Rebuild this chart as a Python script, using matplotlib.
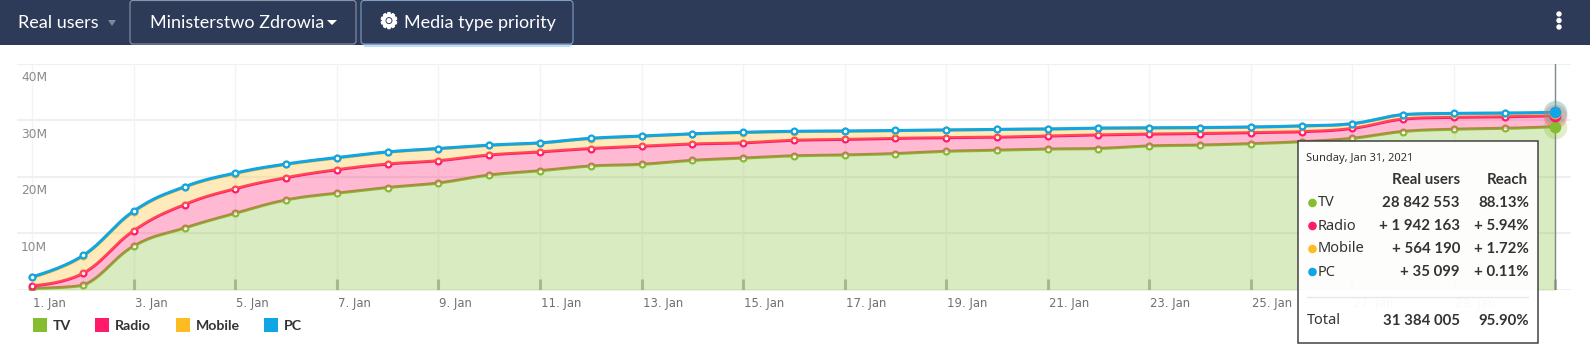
#!/usr/bin/python3
#
# plot.py: Real users by media type, January 2021.

import numpy as np
import matplotlib
matplotlib.use("Agg")
import matplotlib.pyplot as plt
import matplotlib.patheffects as pe
from matplotlib.patches import Circle, FancyBboxPatch, Rectangle, Polygon

W, H = 1590, 361

# daily real users, millions
days = list(range(1, 32))
tv = [0.30, 0.80, 7.77, 10.95, 13.55, 15.90, 17.10, 18.10, 18.90, 20.30, 21.07,
      21.90, 22.20, 22.90, 23.30, 23.70, 23.85, 24.10, 24.50, 24.70, 24.90,
      25.00, 25.45, 25.60, 25.85, 26.20, 26.80, 28.00, 28.40, 28.55, 28.842553]
radio = [0.46, 2.15, 2.73, 4.15, 4.35, 3.95, 4.15, 4.16, 3.95, 3.55, 3.33, 3.10,
         3.20, 2.90, 2.70, 2.75, 2.75, 2.70, 2.40, 2.30, 2.30, 2.40, 2.10, 2.05,
         1.95, 1.77, 1.75, 2.20, 2.10, 2.05, 1.942163]
mobile = [1.47, 3.03, 3.34, 3.05, 2.67, 2.33, 2.07, 2.07, 2.09, 1.69, 1.55, 1.75,
          1.75, 1.75, 1.81, 1.54, 1.45, 1.36, 1.33, 1.36, 1.21, 1.16, 1.06, 1.01,
          0.96, 0.99, 0.81, 0.76, 0.66, 0.61, 0.56419]
pc = [0.12, 0.12, 0.12, 0.10, 0.10, 0.08, 0.08, 0.07, 0.06, 0.06, 0.05, 0.05,
      0.05, 0.05, 0.05, 0.05, 0.04, 0.04, 0.04, 0.04, 0.04, 0.04, 0.04, 0.04,
      0.04, 0.04, 0.04, 0.04, 0.04, 0.04, 0.035099]

names = ["TV", "Radio", "Mobile", "PC"]
colors = ["#84bd2f", "#ff1a6c", "#ffbb22", "#10a5e5"]
y_ticks = [10, 20, 30, 40]
y_labels = ["10M", "20M", "30M", "40M"]
x_label_days = list(range(1, 30, 2))
x_labels = [f"{d}. Jan" for d in x_label_days]
tick_mark_days = list(range(3, 32, 2))

tip_date = "Sunday, Jan 31, 2021"
tip_users = ["28 842 553", "+ 1 942 163", "+ 564 190", "+ 35 099"]
tip_reach = ["88.13%", "+ 5.94%", "+ 1.72%", "+ 0.11%"]
tip_total = ["31 384 005", "95.90%"]


def spline(xs, ys, n=16):
    """Curva bezier passando pelos pontos, suavizacao 1.5."""
    xs = np.asarray(xs, float)
    ys = np.asarray(ys, float)
    slope = np.gradient(ys, xs)
    t = np.linspace(0, 1, n, endpoint=False)[:, None]
    out_x, out_y = [], []
    last = len(xs) - 2
    for i in range(len(xs) - 1):
        dx = xs[i + 1] - xs[i]
        lo, hi = sorted((ys[i], ys[i + 1]))
        p0, p3 = ys[i], ys[i + 1]
        # nas pontas o controle fica em cima do proprio ponto
        k0 = 0 if i == 0 else 0.4
        k1 = 0 if i == last else 0.4
        p1 = np.clip(p0 + slope[i] * dx * k0, lo, hi)
        p2 = np.clip(p3 - slope[i + 1] * dx * k1, lo, hi)
        b = (1 - t) ** 3 * p0 + 3 * (1 - t) ** 2 * t * p1 + 3 * (1 - t) * t ** 2 * p2 + t ** 3 * p3
        c = (1 - t) ** 3 * xs[i] + 3 * (1 - t) ** 2 * t * (xs[i] + k0 * dx) \
            + 3 * (1 - t) * t ** 2 * (xs[i + 1] - k1 * dx) + t ** 3 * xs[i + 1]
        out_x.append(c.ravel())
        out_y.append(b.ravel())
    return np.r_[np.concatenate(out_x), xs[-1]], np.r_[np.concatenate(out_y), ys[-1]]


fig = plt.figure(figsize=(W / 100, H / 100), dpi=100, facecolor="white")

# ---------------------------------------------------------------------------
# Chart
# ---------------------------------------------------------------------------
px_left, px_right, px_top, px_base = 17, 1571, 63.5, 290
ax = fig.add_axes([px_left / W, 1 - px_base / H, (px_right - px_left) / W,
                   (px_base - px_top) / H])
day_px = 50.77
ax.set_xlim(1 + (px_left - 32.3) / day_px, 1 + (px_right - 32.3) / day_px)
ax.set_ylim(0, (px_base - px_top) / 5.66)
for s in ax.spines.values():
    s.set_visible(False)

ax.set_axisbelow(True)
ax.set_xticks(x_label_days + [31])
ax.set_xticklabels([])
ax.set_yticks([0] + y_ticks)
ax.set_yticklabels([])
ax.tick_params(axis="both", length=0)
ax.grid(axis="x", color="#f2f4f7", lw=1.0)
ax.grid(axis="y", color="#eef0f2", lw=1.5)

for d, lab in zip(x_label_days, x_labels):
    ax.annotate(lab, (d, 0), xytext=(1, -14), textcoords="offset pixels", ha="left",
                va="center", fontsize=8.4, color="#707070", family="DejaVu Sans")
for v, lab in zip(y_ticks, y_labels):
    ax.annotate(lab, (px_left, v), xycoords=("figure pixels", "data"), xytext=(4, -14),
                textcoords="offset pixels", ha="left", va="center", fontsize=8.8,
                color="#8a8a8a", family="DejaVu Sans")

# camadas empilhadas: cada area cobre metade da linha de baixo
bottom = np.zeros(len(days))
for i, (vals, col) in enumerate(zip([tv, radio, mobile, pc], colors)):
    top = bottom + np.array(vals)
    sx, sb = spline(days, bottom)
    _, st = spline(days, top)
    ax.fill_between(sx, sb, st, color=col, alpha=0.3, lw=0, zorder=2 + 2 * i)
    ax.plot(sx, st, color=col, lw=2.2, zorder=3 + 2 * i, solid_capstyle="round")
    ax.plot(days[:-1], top[:-1], ls="", marker="o", ms=4.2, mfc="white", mec=col, mew=1.6,
            zorder=3 + 2 * i)
    ax.plot(days[-1], top[-1], ls="", marker="o", ms=17, mfc=col, mec="none", alpha=0.25,
            zorder=20 + i, clip_on=False)
    ax.plot(days[-1], top[-1], ls="", marker="o", ms=8.5, mfc=col, mec="none",
            zorder=25 + i, clip_on=False)
    bottom = top

ax.vlines(tick_mark_days, 0, 11 / 5.66, color="#7d8a66", alpha=0.5, lw=2.2, zorder=12)
ax.axvline(days[-1], color="#7f8a8a", lw=1.0, zorder=19)

# ---------------------------------------------------------------------------
# Header, legend and tooltip, in pixel coordinates
# ---------------------------------------------------------------------------
ui = fig.add_axes([0, 0, 1, 1], facecolor="none")
ui.set_xlim(0, W)
ui.set_ylim(H, 0)
ui.axis("off")

ui.add_patch(Rectangle((0, 0), W, 45, color="#2d3b59", lw=0))
ui.add_patch(FancyBboxPatch((363, 6), 209, 41, boxstyle="round,pad=0,rounding_size=3",
                            fc="#a9cdf5", ec="none", alpha=0.7))
for x0, x1, edge in [(130, 356, "#8a94a8"), (361, 573, "#7f9cc4")]:
    ui.add_patch(FancyBboxPatch((x0, 0.5), x1 - x0, 43.5, boxstyle="round,pad=0,rounding_size=3",
                                fc="#2d3b59", ec=edge, lw=0.8))
head = dict(family="Lato", color="white", va="center", fontsize=13)
ui.text(18, 23, "Real users", **head)
ui.text(150, 23, "Ministerstwo Zdrowia", **head)
ui.text(404, 23, "Media type priority", **head)
ui.text(389, 22, "\u2699", family="DejaVu Sans", color="white", fontsize=15, ha="center",
        va="center", path_effects=[pe.withStroke(linewidth=1.4, foreground="white")])
ui.add_patch(Polygon([(108, 20), (116, 20), (112, 26)], color="#7f8899", lw=0))
ui.add_patch(Polygon([(327, 20), (337, 20), (332, 25)], color="white", lw=0))
for y in (14, 20.5, 27):
    ui.add_patch(Circle((1559, y), 2.7, color="white", lw=0))

for x, name, col in zip([33, 95, 176, 264], names, colors):
    ui.add_patch(Rectangle((x, 318), 13.5, 14, color=col, lw=0))
    ui.text(x + 19.5, 326, name, family="Lato", fontweight="bold", fontsize=10.2,
            color="#333333", va="center")

# tooltip
ui.add_patch(Rectangle((1297.5, 140.5), 240.5, 202, fc="white", ec="#3a3a3a", lw=1.1, alpha=0.96,
                       zorder=5))
ft = dict(family="Noto Sans", color="#333333", va="center", zorder=6)
fb = dict(family="Lato", fontweight="bold", fontsize=10.8, color="#333333", va="center",
          ha="right", zorder=6)
ui.text(1306, 159, tip_date, fontsize=8, **ft)
ui.text(1460, 180, "Real users", **fb)
ui.text(1528, 180, "Reach", **fb)
for y, name, col, u, r in zip([203, 226, 249, 272], names, colors, tip_users, tip_reach):
    ui.add_patch(Circle((1312.5, y), 4.3, color=col, lw=0, zorder=6))
    ui.text(1318, y, name, fontsize=10.5, **ft)
    ui.text(1460, y, u, **fb)
    ui.text(1529, y, r, **fb)
ui.plot([1307, 1528], [297, 297], color="#e8e8e8", lw=1, zorder=6)
ui.text(1307, 321, "Total", fontsize=10.5, **ft)
ui.text(1460, 321, tip_total[0], **fb)
ui.text(1529, 321, tip_total[1], **fb)

fig.savefig("out.png", dpi=100)
